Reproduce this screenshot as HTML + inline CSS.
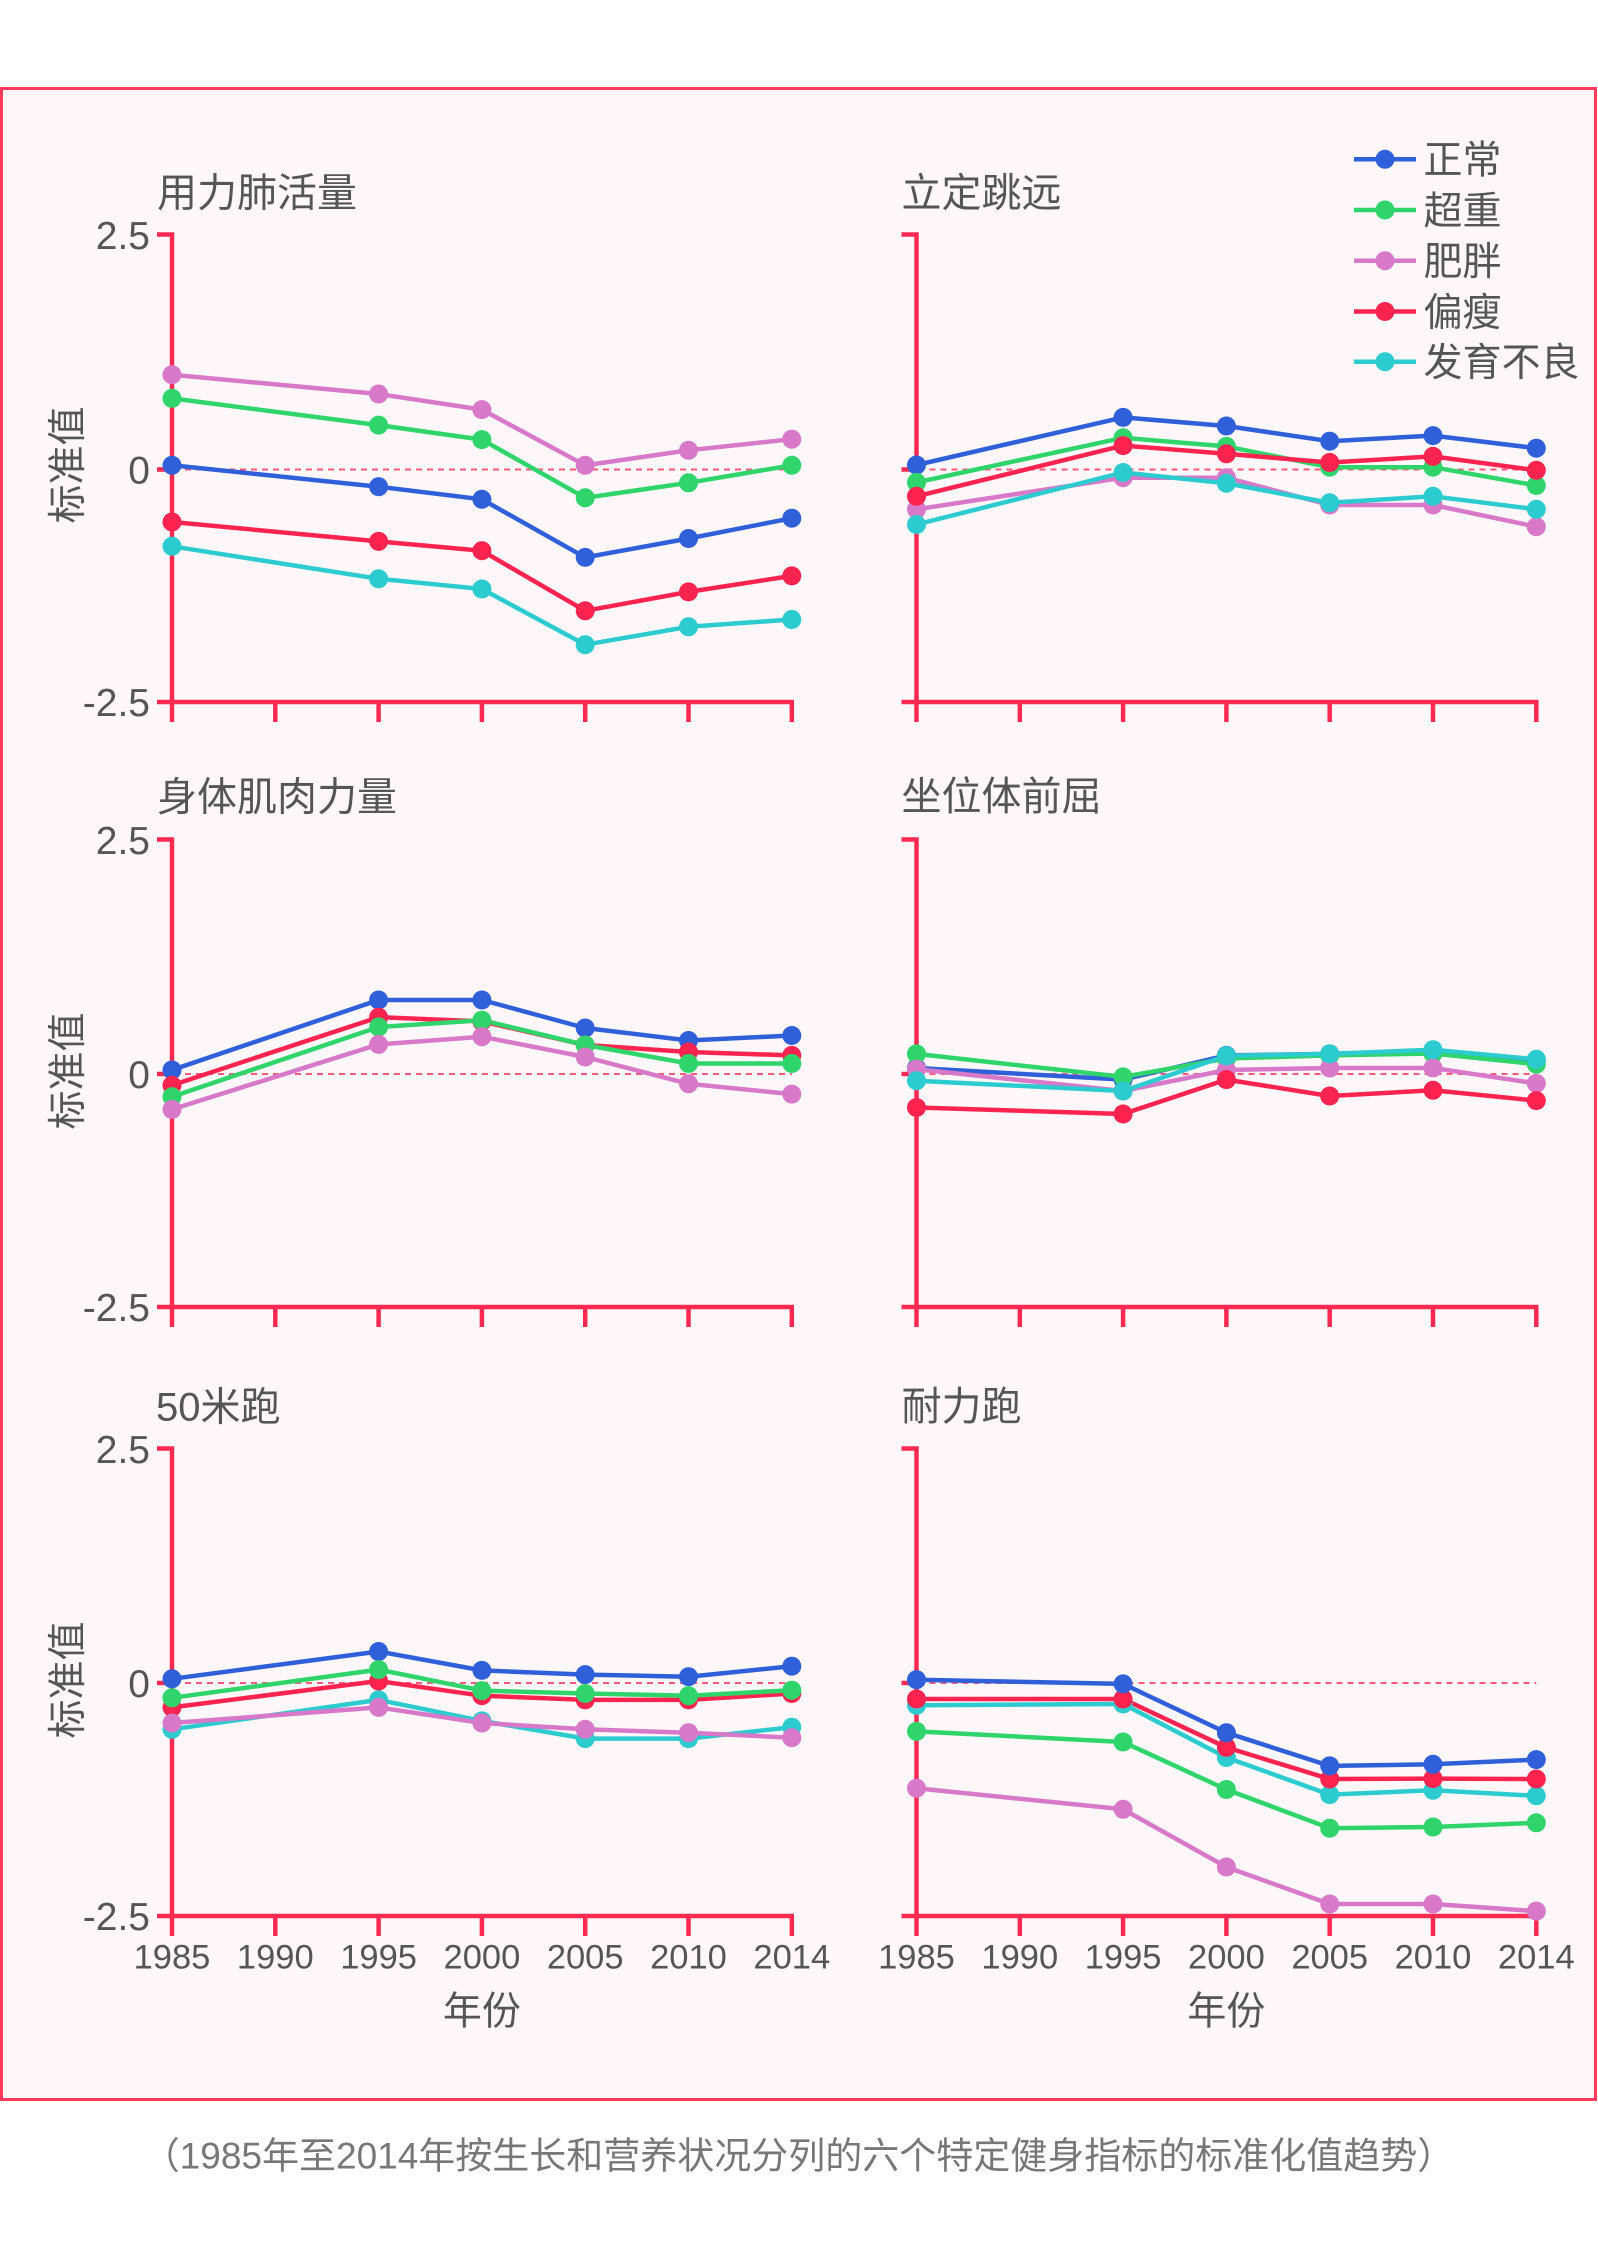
<!DOCTYPE html>
<html>
<head>
<meta charset="utf-8">
<style>
html,body{margin:0;padding:0;background:#ffffff;}
svg{display:block;}
text{font-family:"Liberation Sans","Noto Sans CJK SC",sans-serif;fill:#555555;}
circle{r:9.5px;}
</style>
</head>
<body>
<svg width="1598" height="2265" viewBox="0 0 1598 2265" xmlns="http://www.w3.org/2000/svg">
<rect x="0" y="0" width="1598" height="2265" fill="#ffffff"/>
<rect x="1.5" y="88.5" width="1594" height="2011" fill="#fdf7f9" stroke="#ff3a5e" stroke-width="3"/>

<!-- ============ AXES ============ -->
<g stroke="#ff2a52" stroke-width="4.5" fill="none">
  <path d="M157 234.5 H172 V702"/>
  <path d="M157 702 H794"/>
  <path d="M157 469.5 H172"/>
  <path d="M172 702 V722 M275.3 702 V722 M378.6 702 V722 M481.9 702 V722 M585.2 702 V722 M688.5 702 V722 M791.8 702 V722"/>
  <path d="M901.5 234.5 H916.5 V702"/>
  <path d="M901.5 702 H1538.5"/>
  <path d="M901.5 469.5 H916.5"/>
  <path d="M916.5 702 V722 M1019.8 702 V722 M1123.1 702 V722 M1226.4 702 V722 M1329.7 702 V722 M1433 702 V722 M1536.3 702 V722"/>
  <path d="M157 839.5 H172 V1307"/>
  <path d="M157 1307 H794"/>
  <path d="M157 1074 H172"/>
  <path d="M172 1307 V1327 M275.3 1307 V1327 M378.6 1307 V1327 M481.9 1307 V1327 M585.2 1307 V1327 M688.5 1307 V1327 M791.8 1307 V1327"/>
  <path d="M901.5 839.5 H916.5 V1307"/>
  <path d="M901.5 1307 H1538.5"/>
  <path d="M901.5 1074 H916.5"/>
  <path d="M916.5 1307 V1327 M1019.8 1307 V1327 M1123.1 1307 V1327 M1226.4 1307 V1327 M1329.7 1307 V1327 M1433 1307 V1327 M1536.3 1307 V1327"/>
  <path d="M157 1448.5 H172 V1916"/>
  <path d="M157 1916 H794"/>
  <path d="M157 1683 H172"/>
  <path d="M172 1916 V1936 M275.3 1916 V1936 M378.6 1916 V1936 M481.9 1916 V1936 M585.2 1916 V1936 M688.5 1916 V1936 M791.8 1916 V1936"/>
  <path d="M901.5 1448.5 H916.5 V1916"/>
  <path d="M901.5 1916 H1538.5"/>
  <path d="M901.5 1683 H916.5"/>
  <path d="M916.5 1916 V1936 M1019.8 1916 V1936 M1123.1 1916 V1936 M1226.4 1916 V1936 M1329.7 1916 V1936 M1433 1916 V1936 M1536.3 1916 V1936"/>
</g>

<g stroke="#ff5a7a" stroke-width="2" stroke-dasharray="6 5" fill="none">
  <path d="M174 469.5 H791.8"/>
  <path d="M918.5 469.5 H1536.3"/>
  <path d="M174 1074 H791.8"/>
  <path d="M918.5 1074 H1536.3"/>
  <path d="M174 1683 H791.8"/>
  <path d="M918.5 1683 H1536.3"/>
</g>

<!-- ============ TITLES ============ -->
<g font-size="40">
  <text x="157" y="206.5">用力肺活量</text>
  <text x="901.5" y="206.5">立定跳远</text>
  <text x="157" y="810.5">身体肌肉力量</text>
  <text x="901.5" y="810">坐位体前屈</text>
  <text x="156" y="1420.5">50米跑</text>
  <text x="901.5" y="1420">耐力跑</text>
</g>

<g font-size="39" text-anchor="end">
  <text x="150" y="249">2.5</text>
  <text x="150" y="483.5">0</text>
  <text x="150" y="716">-2.5</text>
  <text x="150" y="854">2.5</text>
  <text x="150" y="1088">0</text>
  <text x="150" y="1321">-2.5</text>
  <text x="150" y="1463">2.5</text>
  <text x="150" y="1697">0</text>
  <text x="150" y="1930">-2.5</text>
</g>

<g font-size="39" text-anchor="middle">
  <text transform="translate(66.5,465) rotate(-90)" x="0" y="14.5">标准值</text>
  <text transform="translate(66.5,1071) rotate(-90)" x="0" y="14.5">标准值</text>
  <text transform="translate(66.5,1680) rotate(-90)" x="0" y="14.5">标准值</text>
</g>

<g font-size="34.5" text-anchor="middle">
  <text x="172" y="1968.5">1985</text>
  <text x="275.3" y="1968.5">1990</text>
  <text x="378.6" y="1968.5">1995</text>
  <text x="481.9" y="1968.5">2000</text>
  <text x="585.2" y="1968.5">2005</text>
  <text x="688.5" y="1968.5">2010</text>
  <text x="791.8" y="1968.5">2014</text>
  <text x="916.5" y="1968.5">1985</text>
  <text x="1019.8" y="1968.5">1990</text>
  <text x="1123.1" y="1968.5">1995</text>
  <text x="1226.4" y="1968.5">2000</text>
  <text x="1329.7" y="1968.5">2005</text>
  <text x="1433" y="1968.5">2010</text>
  <text x="1536.3" y="1968.5">2014</text>
</g>
<g font-size="39" text-anchor="middle">
  <text x="481.9" y="2024.5">年份</text>
  <text x="1226.4" y="2024.5">年份</text>
</g>

<!-- ============ SERIES ============ -->
<g stroke-width="4.5" fill="none" stroke-linejoin="round">
<polyline stroke="#2f5fd9" points="172,465.3 378.6,486.7 481.9,499.3 585.2,557.4 688.5,538.5 791.8,518.2"/>
<polyline stroke="#2fd46a" points="172,398.4 378.6,425.1 481.9,439.6 585.2,497.8 688.5,482.8 791.8,465.3"/>
<polyline stroke="#d878c9" points="172,374.7 378.6,394 481.9,409.6 585.2,465.3 688.5,450.3 791.8,439.2"/>
<polyline stroke="#ff2450" points="172,522 378.6,541.4 481.9,550.7 585.2,610.8 688.5,591.9 791.8,575.9"/>
<polyline stroke="#2ccbcf" points="172,546.3 378.6,578.8 481.9,589 585.2,644.7 688.5,626.8 791.8,619.5"/>
</g>
<g>
<g fill="#2f5fd9"><circle cx="172" cy="465.3" r="9.5"/><circle cx="378.6" cy="486.7" r="9.5"/><circle cx="481.9" cy="499.3" r="9.5"/><circle cx="585.2" cy="557.4" r="9.5"/><circle cx="688.5" cy="538.5" r="9.5"/><circle cx="791.8" cy="518.2" r="9.5"/></g>
<g fill="#2fd46a"><circle cx="172" cy="398.4" r="9.5"/><circle cx="378.6" cy="425.1" r="9.5"/><circle cx="481.9" cy="439.6" r="9.5"/><circle cx="585.2" cy="497.8" r="9.5"/><circle cx="688.5" cy="482.8" r="9.5"/><circle cx="791.8" cy="465.3" r="9.5"/></g>
<g fill="#d878c9"><circle cx="172" cy="374.7" r="9.5"/><circle cx="378.6" cy="394" r="9.5"/><circle cx="481.9" cy="409.6" r="9.5"/><circle cx="585.2" cy="465.3" r="9.5"/><circle cx="688.5" cy="450.3" r="9.5"/><circle cx="791.8" cy="439.2" r="9.5"/></g>
<g fill="#ff2450"><circle cx="172" cy="522" r="9.5"/><circle cx="378.6" cy="541.4" r="9.5"/><circle cx="481.9" cy="550.7" r="9.5"/><circle cx="585.2" cy="610.8" r="9.5"/><circle cx="688.5" cy="591.9" r="9.5"/><circle cx="791.8" cy="575.9" r="9.5"/></g>
<g fill="#2ccbcf"><circle cx="172" cy="546.3" r="9.5"/><circle cx="378.6" cy="578.8" r="9.5"/><circle cx="481.9" cy="589" r="9.5"/><circle cx="585.2" cy="644.7" r="9.5"/><circle cx="688.5" cy="626.8" r="9.5"/><circle cx="791.8" cy="619.5" r="9.5"/></g>
</g>

<g stroke-width="4.5" fill="none" stroke-linejoin="round">
<polyline stroke="#2f5fd9" points="916.5,465 1123.1,417.4 1226.4,426 1329.7,441.2 1433,435.6 1536.3,448.2"/>
<polyline stroke="#2fd46a" points="916.5,482.4 1123.1,437.8 1226.4,446.4 1329.7,467.2 1433,467.2 1536.3,485.5"/>
<polyline stroke="#d878c9" points="916.5,509.3 1123.1,477.7 1226.4,477.7 1329.7,505 1433,505 1536.3,526.7"/>
<polyline stroke="#ff2450" points="916.5,496.3 1123.1,445.6 1226.4,453.8 1329.7,462.5 1433,456.4 1536.3,470.3"/>
<polyline stroke="#2ccbcf" points="916.5,524.5 1123.1,472.5 1226.4,483.3 1329.7,502.8 1433,496.3 1536.3,509.3"/>
</g>
<g>
<g fill="#2f5fd9"><circle cx="916.5" cy="465" r="9.5"/><circle cx="1123.1" cy="417.4" r="9.5"/><circle cx="1226.4" cy="426" r="9.5"/><circle cx="1329.7" cy="441.2" r="9.5"/><circle cx="1433" cy="435.6" r="9.5"/><circle cx="1536.3" cy="448.2" r="9.5"/></g>
<g fill="#2fd46a"><circle cx="916.5" cy="482.4" r="9.5"/><circle cx="1123.1" cy="437.8" r="9.5"/><circle cx="1226.4" cy="446.4" r="9.5"/><circle cx="1329.7" cy="467.2" r="9.5"/><circle cx="1433" cy="467.2" r="9.5"/><circle cx="1536.3" cy="485.5" r="9.5"/></g>
<g fill="#d878c9"><circle cx="916.5" cy="509.3" r="9.5"/><circle cx="1123.1" cy="477.7" r="9.5"/><circle cx="1226.4" cy="477.7" r="9.5"/><circle cx="1329.7" cy="505" r="9.5"/><circle cx="1433" cy="505" r="9.5"/><circle cx="1536.3" cy="526.7" r="9.5"/></g>
<g fill="#ff2450"><circle cx="916.5" cy="496.3" r="9.5"/><circle cx="1123.1" cy="445.6" r="9.5"/><circle cx="1226.4" cy="453.8" r="9.5"/><circle cx="1329.7" cy="462.5" r="9.5"/><circle cx="1433" cy="456.4" r="9.5"/><circle cx="1536.3" cy="470.3" r="9.5"/></g>
<g fill="#2ccbcf"><circle cx="916.5" cy="524.5" r="9.5"/><circle cx="1123.1" cy="472.5" r="9.5"/><circle cx="1226.4" cy="483.3" r="9.5"/><circle cx="1329.7" cy="502.8" r="9.5"/><circle cx="1433" cy="496.3" r="9.5"/><circle cx="1536.3" cy="509.3" r="9.5"/></g>
</g>

<g stroke-width="4.5" fill="none" stroke-linejoin="round">
<polyline stroke="#2f5fd9" points="172,1070 378.6,1000 481.9,1000 585.2,1028 688.5,1040.5 791.8,1035.5"/>
<polyline stroke="#ff2450" points="172,1085.3 378.6,1017.2 481.9,1021.4 585.2,1045 688.5,1052 791.8,1055.4"/>
<polyline stroke="#2fd46a" points="172,1096.8 378.6,1027 481.9,1020.2 585.2,1045 688.5,1063.5 791.8,1063.5"/>
<polyline stroke="#d878c9" points="172,1109.4 378.6,1044.4 481.9,1036.7 585.2,1057 688.5,1083.8 791.8,1094.1"/>
</g>
<g>
<g fill="#2f5fd9"><circle cx="172" cy="1070" r="9.5"/><circle cx="378.6" cy="1000" r="9.5"/><circle cx="481.9" cy="1000" r="9.5"/><circle cx="585.2" cy="1028" r="9.5"/><circle cx="688.5" cy="1040.5" r="9.5"/><circle cx="791.8" cy="1035.5" r="9.5"/></g>
<g fill="#ff2450"><circle cx="172" cy="1085.3" r="9.5"/><circle cx="378.6" cy="1017.2" r="9.5"/><circle cx="481.9" cy="1021.4" r="9.5"/><circle cx="585.2" cy="1045" r="9.5"/><circle cx="688.5" cy="1052" r="9.5"/><circle cx="791.8" cy="1055.4" r="9.5"/></g>
<g fill="#2fd46a"><circle cx="172" cy="1096.8" r="9.5"/><circle cx="378.6" cy="1027" r="9.5"/><circle cx="481.9" cy="1020.2" r="9.5"/><circle cx="585.2" cy="1045" r="9.5"/><circle cx="688.5" cy="1063.5" r="9.5"/><circle cx="791.8" cy="1063.5" r="9.5"/></g>
<g fill="#d878c9"><circle cx="172" cy="1109.4" r="9.5"/><circle cx="378.6" cy="1044.4" r="9.5"/><circle cx="481.9" cy="1036.7" r="9.5"/><circle cx="585.2" cy="1057" r="9.5"/><circle cx="688.5" cy="1083.8" r="9.5"/><circle cx="791.8" cy="1094.1" r="9.5"/></g>
</g>

<g stroke-width="4.5" fill="none" stroke-linejoin="round">
<polyline stroke="#2f5fd9" points="916.5,1068 1123.1,1079.6 1226.4,1055.4 1329.7,1053.9 1433,1050.9 1536.3,1060.4"/>
<polyline stroke="#2fd46a" points="916.5,1053.9 1123.1,1076.9 1226.4,1058.5 1329.7,1055.4 1433,1053.5 1536.3,1064.2"/>
<polyline stroke="#d878c9" points="916.5,1069.2 1123.1,1091 1226.4,1070 1329.7,1068 1433,1068 1536.3,1083.4"/>
<polyline stroke="#ff2450" points="916.5,1107.5 1123.1,1114 1226.4,1079.6 1329.7,1096 1433,1090.3 1536.3,1100.6"/>
<polyline stroke="#2ccbcf" points="916.5,1080.7 1123.1,1091 1226.4,1055.8 1329.7,1053.9 1433,1049.7 1536.3,1059.3"/>
</g>
<g>
<g fill="#2f5fd9"><circle cx="916.5" cy="1068" r="9.5"/><circle cx="1123.1" cy="1079.6" r="9.5"/><circle cx="1226.4" cy="1055.4" r="9.5"/><circle cx="1329.7" cy="1053.9" r="9.5"/><circle cx="1433" cy="1050.9" r="9.5"/><circle cx="1536.3" cy="1060.4" r="9.5"/></g>
<g fill="#2fd46a"><circle cx="916.5" cy="1053.9" r="9.5"/><circle cx="1123.1" cy="1076.9" r="9.5"/><circle cx="1226.4" cy="1058.5" r="9.5"/><circle cx="1329.7" cy="1055.4" r="9.5"/><circle cx="1433" cy="1053.5" r="9.5"/><circle cx="1536.3" cy="1064.2" r="9.5"/></g>
<g fill="#d878c9"><circle cx="916.5" cy="1069.2" r="9.5"/><circle cx="1123.1" cy="1091" r="9.5"/><circle cx="1226.4" cy="1070" r="9.5"/><circle cx="1329.7" cy="1068" r="9.5"/><circle cx="1433" cy="1068" r="9.5"/><circle cx="1536.3" cy="1083.4" r="9.5"/></g>
<g fill="#ff2450"><circle cx="916.5" cy="1107.5" r="9.5"/><circle cx="1123.1" cy="1114" r="9.5"/><circle cx="1226.4" cy="1079.6" r="9.5"/><circle cx="1329.7" cy="1096" r="9.5"/><circle cx="1433" cy="1090.3" r="9.5"/><circle cx="1536.3" cy="1100.6" r="9.5"/></g>
<g fill="#2ccbcf"><circle cx="916.5" cy="1080.7" r="9.5"/><circle cx="1123.1" cy="1091" r="9.5"/><circle cx="1226.4" cy="1055.8" r="9.5"/><circle cx="1329.7" cy="1053.9" r="9.5"/><circle cx="1433" cy="1049.7" r="9.5"/><circle cx="1536.3" cy="1059.3" r="9.5"/></g>
</g>

<g stroke-width="4.5" fill="none" stroke-linejoin="round">
<polyline stroke="#2f5fd9" points="172,1678.8 378.6,1651.5 481.9,1670.4 585.2,1674.6 688.5,1676.7 791.8,1666.2"/>
<polyline stroke="#ff2450" points="172,1707.4 378.6,1681 481.9,1695.7 585.2,1699.9 688.5,1699.9 791.8,1693.5"/>
<polyline stroke="#2fd46a" points="172,1697.8 378.6,1669.6 481.9,1690.6 585.2,1693.5 688.5,1695.7 791.8,1690.2"/>
<polyline stroke="#2ccbcf" points="172,1729.3 378.6,1699.9 481.9,1720.9 585.2,1738.6 688.5,1738.6 791.8,1727.2"/>
<polyline stroke="#d878c9" points="172,1723 378.6,1707.4 481.9,1723 585.2,1729.3 688.5,1732.7 791.8,1737.7"/>
</g>
<g>
<g fill="#2f5fd9"><circle cx="172" cy="1678.8" r="9.5"/><circle cx="378.6" cy="1651.5" r="9.5"/><circle cx="481.9" cy="1670.4" r="9.5"/><circle cx="585.2" cy="1674.6" r="9.5"/><circle cx="688.5" cy="1676.7" r="9.5"/><circle cx="791.8" cy="1666.2" r="9.5"/></g>
<g fill="#ff2450"><circle cx="172" cy="1707.4" r="9.5"/><circle cx="378.6" cy="1681" r="9.5"/><circle cx="481.9" cy="1695.7" r="9.5"/><circle cx="585.2" cy="1699.9" r="9.5"/><circle cx="688.5" cy="1699.9" r="9.5"/><circle cx="791.8" cy="1693.5" r="9.5"/></g>
<g fill="#2fd46a"><circle cx="172" cy="1697.8" r="9.5"/><circle cx="378.6" cy="1669.6" r="9.5"/><circle cx="481.9" cy="1690.6" r="9.5"/><circle cx="585.2" cy="1693.5" r="9.5"/><circle cx="688.5" cy="1695.7" r="9.5"/><circle cx="791.8" cy="1690.2" r="9.5"/></g>
<g fill="#2ccbcf"><circle cx="172" cy="1729.3" r="9.5"/><circle cx="378.6" cy="1699.9" r="9.5"/><circle cx="481.9" cy="1720.9" r="9.5"/><circle cx="585.2" cy="1738.6" r="9.5"/><circle cx="688.5" cy="1738.6" r="9.5"/><circle cx="791.8" cy="1727.2" r="9.5"/></g>
<g fill="#d878c9"><circle cx="172" cy="1723" r="9.5"/><circle cx="378.6" cy="1707.4" r="9.5"/><circle cx="481.9" cy="1723" r="9.5"/><circle cx="585.2" cy="1729.3" r="9.5"/><circle cx="688.5" cy="1732.7" r="9.5"/><circle cx="791.8" cy="1737.7" r="9.5"/></g>
</g>

<g stroke-width="4.5" fill="none" stroke-linejoin="round">
<polyline stroke="#d878c9" points="916.5,1788.2 1123.1,1809.3 1226.4,1867 1329.7,1904 1433,1904 1536.3,1911.1"/>
<polyline stroke="#2fd46a" points="916.5,1731.4 1123.1,1742 1226.4,1789.5 1329.7,1828.2 1433,1827 1536.3,1822.8"/>
<polyline stroke="#2ccbcf" points="916.5,1705.3 1123.1,1704 1226.4,1757.5 1329.7,1794.6 1433,1790.3 1536.3,1795.8"/>
<polyline stroke="#ff2450" points="916.5,1699 1123.1,1699 1226.4,1747.4 1329.7,1779 1433,1778.6 1536.3,1779"/>
<polyline stroke="#2f5fd9" points="916.5,1679.7 1123.1,1683.9 1226.4,1732.7 1329.7,1765.9 1433,1764.3 1536.3,1759.6"/>
</g>
<g>
<g fill="#d878c9"><circle cx="916.5" cy="1788.2" r="9.5"/><circle cx="1123.1" cy="1809.3" r="9.5"/><circle cx="1226.4" cy="1867" r="9.5"/><circle cx="1329.7" cy="1904" r="9.5"/><circle cx="1433" cy="1904" r="9.5"/><circle cx="1536.3" cy="1911.1" r="9.5"/></g>
<g fill="#2fd46a"><circle cx="916.5" cy="1731.4" r="9.5"/><circle cx="1123.1" cy="1742" r="9.5"/><circle cx="1226.4" cy="1789.5" r="9.5"/><circle cx="1329.7" cy="1828.2" r="9.5"/><circle cx="1433" cy="1827" r="9.5"/><circle cx="1536.3" cy="1822.8" r="9.5"/></g>
<g fill="#2ccbcf"><circle cx="916.5" cy="1705.3" r="9.5"/><circle cx="1123.1" cy="1704" r="9.5"/><circle cx="1226.4" cy="1757.5" r="9.5"/><circle cx="1329.7" cy="1794.6" r="9.5"/><circle cx="1433" cy="1790.3" r="9.5"/><circle cx="1536.3" cy="1795.8" r="9.5"/></g>
<g fill="#ff2450"><circle cx="916.5" cy="1699" r="9.5"/><circle cx="1123.1" cy="1699" r="9.5"/><circle cx="1226.4" cy="1747.4" r="9.5"/><circle cx="1329.7" cy="1779" r="9.5"/><circle cx="1433" cy="1778.6" r="9.5"/><circle cx="1536.3" cy="1779" r="9.5"/></g>
<g fill="#2f5fd9"><circle cx="916.5" cy="1679.7" r="9.5"/><circle cx="1123.1" cy="1683.9" r="9.5"/><circle cx="1226.4" cy="1732.7" r="9.5"/><circle cx="1329.7" cy="1765.9" r="9.5"/><circle cx="1433" cy="1764.3" r="9.5"/><circle cx="1536.3" cy="1759.6" r="9.5"/></g>
</g>

<!-- ============ LEGEND ============ -->
<g stroke-width="4.5">
  <line x1="1354" y1="159.3" x2="1416" y2="159.3" stroke="#2f5fd9"/>
  <line x1="1354" y1="210" x2="1416" y2="210" stroke="#2fd46a"/>
  <line x1="1354" y1="260.7" x2="1416" y2="260.7" stroke="#d878c9"/>
  <line x1="1354" y1="311.5" x2="1416" y2="311.5" stroke="#ff2450"/>
  <line x1="1354" y1="361.7" x2="1416" y2="361.7" stroke="#2ccbcf"/>
</g>
<circle cx="1385" cy="159.3" r="9.5" fill="#2f5fd9"/>
<circle cx="1385" cy="210" r="9.5" fill="#2fd46a"/>
<circle cx="1385" cy="260.7" r="9.5" fill="#d878c9"/>
<circle cx="1385" cy="311.5" r="9.5" fill="#ff2450"/>
<circle cx="1385" cy="361.7" r="9.5" fill="#2ccbcf"/>
<g font-size="39">
  <text x="1423.5" y="173.7">正常</text>
  <text x="1423.5" y="224.4">超重</text>
  <text x="1423.5" y="275.1">肥胖</text>
  <text x="1423.5" y="325.9">偏瘦</text>
  <text x="1423.5" y="376.1">发育不良</text>
</g>

<text x="798.5" y="2168.5" font-size="37" text-anchor="middle" style="fill:#777777">（1985年至2014年按生长和营养状况分列的六个特定健身指标的标准化值趋势）</text>
</svg>
</body>
</html>
